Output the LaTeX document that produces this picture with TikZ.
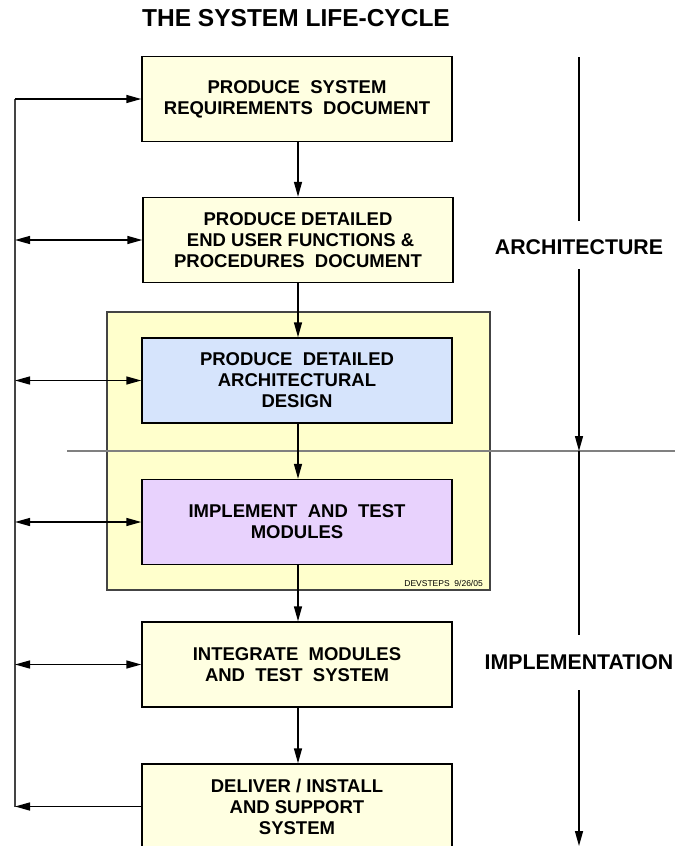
\documentclass[tikz,border=0pt]{standalone}
\usepackage{fontspec}
\setmainfont{Liberation Sans}
\usetikzlibrary{arrows.meta}

\definecolor{boxcream}{HTML}{FFFFE1}
\definecolor{stagecream}{HTML}{FFFFCC}
\definecolor{archblue}{HTML}{D6E4FC}
\definecolor{implviolet}{HTML}{E8D2FD}
\definecolor{railgray}{HTML}{444444}
\definecolor{dividergray}{HTML}{808080}

\tikzset{
  stepbox/.style={draw=black, line width=1.4pt, fill=boxcream,
    minimum width=310pt, minimum height=85pt, inner sep=0pt,
    align=center, font=\fontsize{18.5}{21}\selectfont\bfseries},
  flow/.style={line width=1.4pt, -{Triangle[length=15pt,width=8pt]}},
  twoway/.style={line width=1.4pt, {Triangle[length=15pt,width=8pt]}-{Triangle[length=15pt,width=8pt]}},
  phase/.style={font=\fontsize{21.3}{24}\selectfont\bfseries, inner sep=0pt},
}

\begin{document}
\begin{tikzpicture}[x=1pt, y=-1pt]
\useasboundingbox (0,0) rectangle (677,846);
\clip (0,0) rectangle (677,846);

% title
\node[anchor=base, font=\fontsize{24.5}{28}\selectfont\bfseries, inner sep=0pt]
  (title) at (296,26.7) {THE SYSTEM LIFE-CYCLE};

% shaded stage around design and module work
\node[draw=railgray, line width=1.1pt, fill=stagecream,
  minimum width=383pt, minimum height=278pt, inner sep=0pt]
  (stage) at (298.5,451) {};
\node[anchor=base east, font=\fontsize{8.5}{10}\selectfont, inner sep=0pt]
  (stamp) at (483,586) {DEVSTEPS\ \ 9/26/05};

% phase divider
\coordinate (divL) at (67,451);
\coordinate (divR) at (675,451);
\draw[dividergray, line width=1.3pt] (divL) -- (divR);

% process steps
\node[stepbox] (req) at (297,99) {PRODUCE\ \ SYSTEM\\REQUIREMENTS\ \ DOCUMENT};
\node[stepbox] (users) at (298,240) {PRODUCE DETAILED\\\ END USER FUNCTIONS \&\\PROCEDURES\ \ DOCUMENT};
\node[stepbox, fill=archblue] (design) at (297,380.5) {PRODUCE\ \ DETAILED\\ARCHITECTURAL\\DESIGN};
\node[stepbox, fill=implviolet] (modules) at (297,522) {IMPLEMENT\ \ AND\ \ TEST\\MODULES};
\node[stepbox] (integ) at (297,664.5) {INTEGRATE\ \ MODULES\\AND\ \ TEST\ \ SYSTEM};
\node[stepbox] (deliver) at (297,806.5) {DELIVER / INSTALL\\AND SUPPORT\\SYSTEM};

% main flow
\draw[flow] (req.south -| 298,0) -- (users.north -| 298,0);
\draw[flow] (users.south -| 298,0) -- (design.north -| 298,0);
\draw[flow] (design.south -| 298,0) -- (modules.north -| 298,0);
\draw[flow] (modules.south -| 298,0) -- (stage.south -| 298,0) -- (integ.north -| 298,0);
\draw[flow] (integ.south -| 298,0) -- (deliver.north -| 298,0);

% feedback rail on the left
\coordinate (railtop) at (15,99);
\coordinate (railbot) at (15,806.5);
\draw[railgray, line width=1.8pt] (railtop) -- (railbot);
\draw[flow] (railtop) -- (req.west);
\draw[twoway] (users.west -| railtop) -- (users.west);
\draw[twoway] (design.west -| railtop) -- (design.west);
\draw[twoway] (modules.west -| railtop) -- (modules.west);
\draw[twoway] (integ.west -| railtop) -- (integ.west);
\draw[flow] (deliver.west) -- (railbot);

% phase axis on the right
\node[phase] (arch) at (579,247) {ARCHITECTURE};
\node[phase] (impl) at (579,662) {IMPLEMENTATION};
\coordinate (axtop) at (579,57);
\coordinate (archA) at (579,221);
\coordinate (archB) at (579,269);
\coordinate (cross) at (579,451);
\coordinate (implA) at (579,635);
\coordinate (implB) at (579,690);
\coordinate (axend) at (579,846);
\draw[line width=1.4pt] (axtop) -- (archA);
\draw[flow] (archB) -- (cross);
\draw[line width=1.4pt] (cross) -- (implA);
\draw[flow] (implB) -- (axend);
\end{tikzpicture}
\end{document}
